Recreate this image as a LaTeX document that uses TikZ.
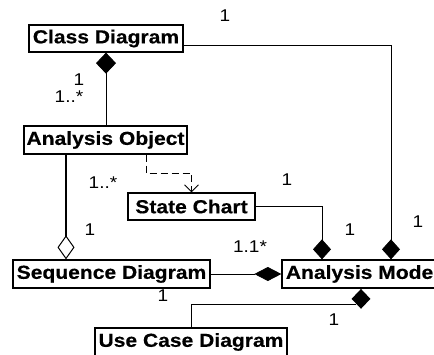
\documentclass[tikz,border=0pt]{standalone}
\usepackage{fontspec}
\setmainfont{Liberation Sans}[FakeStretch=1.12, BoldFeatures={FakeBold=0.4}]
\usetikzlibrary{arrows.meta,shapes.geometric}
\begin{document}
\begin{tikzpicture}[x=1pt,y=-1pt,
  box/.style={draw, line width=1.3pt, fill=white, inner sep=0pt, anchor=center,
    font=\fontsize{18.8}{20}\selectfont\bfseries},
  lab/.style={font=\fontsize{17}{18}\selectfont, inner sep=0pt, anchor=center},
  conn/.style={line width=0.85pt, draw=black},
  fdia/.style={-{Diamond[length=20pt,width=18pt]}}]
\useasboundingbox (0,0) rectangle (434,354);
\clip (0,0) rectangle (434,354);
% boxes
\node[box, minimum width=154pt, minimum height=27pt] (CD) at (106,38.5) {Class Diagram};
\node[box, minimum width=163pt, minimum height=28pt] (AO) at (105.5,140) {Analysis Object};
\node[box, minimum width=127pt, minimum height=27pt] (SC) at (191.5,206.5) {State Chart};
\node[box, minimum width=197pt, minimum height=28pt] (SD) at (111.5,274) {Sequence Diagram};
\node[box, minimum width=161pt, minimum height=28pt] (AM) at (362.5,274) {Analysis Model};
\node[box, minimum width=192pt, minimum height=28pt] (UC) at (191,342) {Use Case Diagram};
% helper coordinates
\coordinate (x66) at (66,0);
\coordinate (x322) at (322,0);
\coordinate (x391) at (391,0);
\coordinate (x361) at (361,0);
\coordinate (dA) at (146,173);
% connectors
\draw[conn, -{Diamond[length=21pt,width=20pt]}] (CD.south |- AO.north) -- (CD.south);
\draw[line width=2pt, -{Diamond[open,length=24pt,width=17pt,line width=1pt]}] (AO.south -| x66) -- (SD.north -| x66);
\draw[conn, dash pattern=on 7pt off 4pt, -{Straight Barb[length=7pt,width=14pt]}] (AO.south -| dA) -- (dA) -| (SC.north);
\draw[conn, fdia] (SC.east) -| (AM.north -| x322);
\draw[conn, fdia] ([yshift=-6.5pt]CD.east) -| (AM.north -| x391);
\draw[conn, -{Diamond[length=27pt,width=14pt]}] (SD.east) -- (AM.west);
\node[diamond, fill=black, inner sep=0pt, minimum width=19pt, minimum height=20pt, anchor=north] (dm) at (AM.south -| x361) {};
\draw[conn] (UC.north) |- (dm.south west);
% labels
\node[lab] (l1) at (225,16) {1};
\node[lab] (l2) at (79,80) {1};
\node[lab] (l3) at (69,97) {1..*};
\node[lab] (l4) at (103,183) {1..*};
\node[lab] (l5) at (90,230) {1};
\node[lab] (l6) at (287,180) {1};
\node[lab] (l7) at (350,230) {1};
\node[lab] (l8) at (418,222) {1};
\node[lab] (l9) at (250,247) {1.1*};
\node[lab] (l10) at (163,296) {1};
\node[lab] (l11) at (334,320) {1};
\end{tikzpicture}
\end{document}
